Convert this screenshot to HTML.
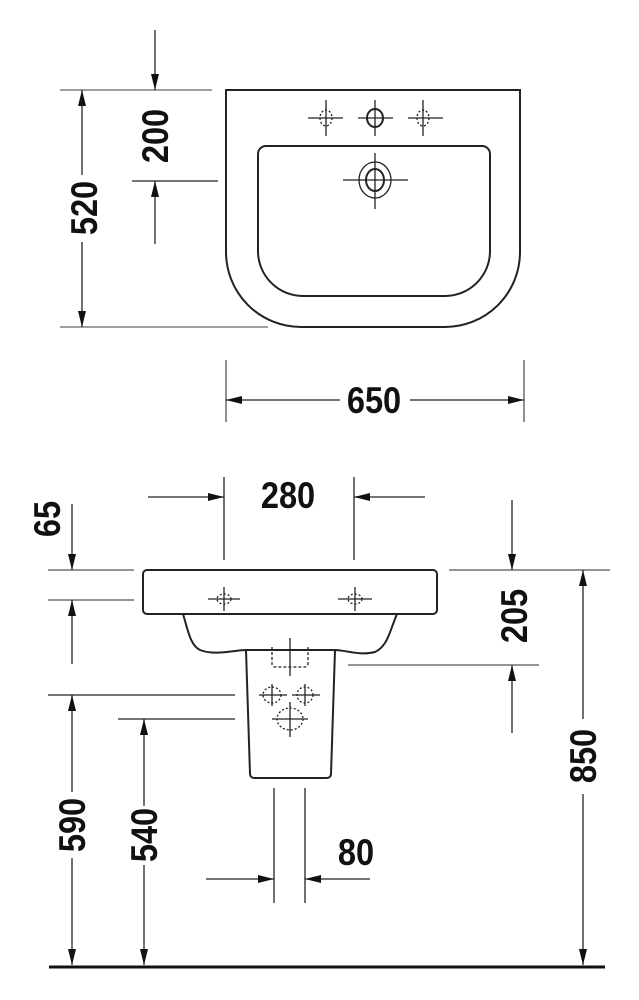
<!DOCTYPE html>
<html><head><style>html,body{margin:0;padding:0;background:#fff;overflow:hidden}svg{display:block}
text{font-family:"Liberation Sans",sans-serif;font-weight:bold;font-size:37px;fill:#111}</style></head>
<body>
<svg width="639" height="1000" viewBox="0 0 639 1000" xmlns="http://www.w3.org/2000/svg">
<defs>
<marker id="a" markerWidth="16" markerHeight="8" refX="16" refY="4" orient="auto" markerUnits="userSpaceOnUse">
<path d="M0,0 L16,4 L0,8 Z" fill="#111"/></marker>
</defs>
<g stroke="#222" stroke-width="1.3" fill="none">
<!-- top view -->
<path d="M226,90 H520 V252 A75,75 0 0 1 445,327 H301 A75,75 0 0 1 226,252 Z" stroke-width="2"/>
<path d="M266,146 H482 A8,8 0 0 1 490,154 V251 A45,45 0 0 1 445,296 H303 A45,45 0 0 1 258,251 V154 A8,8 0 0 1 266,146 Z" stroke-width="2"/>
<line x1="308" y1="118" x2="343" y2="118"/><line x1="326" y1="100" x2="326" y2="136"/>
<ellipse cx="326" cy="118" rx="6" ry="8" stroke-dasharray="2 2"/>
<line x1="358" y1="118" x2="393" y2="118"/><line x1="375" y1="100" x2="375" y2="136"/>
<ellipse cx="375" cy="118" rx="8" ry="9" stroke-width="2"/>
<line x1="408" y1="118" x2="443" y2="118"/><line x1="423" y1="100" x2="423" y2="136"/>
<ellipse cx="423" cy="118" rx="6" ry="8" stroke-dasharray="2 2"/>
<line x1="343" y1="180" x2="408" y2="180"/><line x1="375" y1="153" x2="375" y2="209"/>
<ellipse cx="375" cy="180" rx="16" ry="18"/><ellipse cx="375" cy="180" rx="9" ry="11" stroke-width="2"/>
<!-- 520 -->
<line x1="60" y1="90" x2="212" y2="90" stroke="#666"/>
<line x1="60" y1="327" x2="268" y2="327" stroke="#666"/>
<line x1="82" y1="175" x2="82" y2="90" marker-end="url(#a)"/>
<line x1="82" y1="242" x2="82" y2="327" marker-end="url(#a)"/>
<!-- 200 -->
<line x1="155" y1="30" x2="155" y2="90" marker-end="url(#a)"/>
<line x1="132" y1="181" x2="218" y2="181"/>
<line x1="155" y1="244" x2="155" y2="181" marker-end="url(#a)"/>
<!-- 650 -->
<line x1="226" y1="360" x2="226" y2="422" stroke="#555"/>
<line x1="524" y1="360" x2="524" y2="422" stroke="#555"/>
<line x1="340" y1="400" x2="226" y2="400" marker-end="url(#a)"/>
<line x1="410" y1="400" x2="524" y2="400" marker-end="url(#a)"/>

<!-- side view -->
<rect x="143" y="570" width="294" height="44" rx="4" stroke-width="2"/>
<path d="M183,614 C188,630 190,645 200,650 C215,656 235,650 246,650" stroke-width="2"/>
<path d="M397,614 C390,630 388,646 375,652 C360,656 345,650 335,650" stroke-width="2"/>
<path d="M246,650 L250,774 A4,4 0 0 0 254,778 L327,778 A4,4 0 0 0 331,774 L335,650 Z" stroke-width="2"/>
<path d="M272,647 V664 A3,3 0 0 0 275,667 H305 A3,3 0 0 0 308,664 V647" stroke-dasharray="3 2"/>
<line x1="290" y1="638" x2="290" y2="676"/>
<line x1="208" y1="599" x2="240" y2="599"/><line x1="224" y1="587" x2="224" y2="611"/>
<ellipse cx="224" cy="599" rx="7" ry="5" stroke-dasharray="2 2"/>
<line x1="338" y1="599" x2="372" y2="599"/><line x1="355" y1="587" x2="355" y2="611"/>
<ellipse cx="355" cy="599" rx="7" ry="5" stroke-dasharray="2 2"/>
<line x1="259" y1="695" x2="287" y2="695"/><line x1="272" y1="684" x2="272" y2="706"/>
<ellipse cx="272" cy="695" rx="9" ry="8" stroke-dasharray="2 2"/>
<line x1="292" y1="695" x2="320" y2="695"/><line x1="305" y1="684" x2="305" y2="706"/>
<ellipse cx="305" cy="695" rx="8" ry="8" stroke-dasharray="2 2"/>
<line x1="272" y1="719" x2="308" y2="719"/><line x1="290" y1="702" x2="290" y2="737"/>
<ellipse cx="290" cy="719" rx="13" ry="11" stroke-dasharray="2 2"/>
<!-- 280 -->
<line x1="224" y1="477" x2="224" y2="560"/>
<line x1="354" y1="477" x2="354" y2="560"/>
<line x1="148" y1="497" x2="224" y2="497" marker-end="url(#a)"/>
<line x1="425" y1="497" x2="354" y2="497" marker-end="url(#a)"/>
<!-- 65 -->
<line x1="72" y1="504" x2="72" y2="570" marker-end="url(#a)"/>
<line x1="48" y1="570" x2="134" y2="570" stroke="#555"/>
<line x1="48" y1="600" x2="134" y2="600" stroke="#555"/>
<line x1="72" y1="664" x2="72" y2="600" marker-end="url(#a)"/>
<!-- 205 -->
<line x1="449" y1="570" x2="610" y2="570" stroke="#555"/>
<line x1="348" y1="665" x2="539" y2="665" stroke="#555"/>
<line x1="512" y1="500" x2="512" y2="570" marker-end="url(#a)"/>
<line x1="512" y1="733" x2="512" y2="665" marker-end="url(#a)"/>
<!-- 850 -->
<line x1="583" y1="719" x2="583" y2="570" marker-end="url(#a)"/>
<line x1="583" y1="794" x2="583" y2="965" marker-end="url(#a)"/>
<!-- 590 / 540 -->
<line x1="48" y1="695" x2="235" y2="695"/>
<line x1="118" y1="719" x2="235" y2="719"/>
<line x1="72" y1="792" x2="72" y2="695" marker-end="url(#a)"/>
<line x1="72" y1="858" x2="72" y2="965" marker-end="url(#a)"/>
<line x1="144" y1="806" x2="144" y2="719" marker-end="url(#a)"/>
<line x1="144" y1="865" x2="144" y2="965" marker-end="url(#a)"/>
<!-- 80 -->
<line x1="274" y1="788" x2="274" y2="903"/>
<line x1="305" y1="788" x2="305" y2="903"/>
<line x1="206" y1="879" x2="274" y2="879" marker-end="url(#a)"/>
<line x1="370" y1="879" x2="305" y2="879" marker-end="url(#a)"/>
</g>
<line x1="49" y1="967" x2="605" y2="967" stroke="#111" stroke-width="3"/>
<g text-anchor="middle">
<text transform="translate(374,413) scale(0.88,1)">650</text>
<text transform="translate(97,208) rotate(-90) scale(0.88,1)">520</text>
<text transform="translate(168,136) rotate(-90) scale(0.88,1)">200</text>
<text transform="translate(288,508) scale(0.88,1)">280</text>
<text transform="translate(60,519) rotate(-90) scale(0.88,1)">65</text>
<text transform="translate(527,616) rotate(-90) scale(0.88,1)">205</text>
<text transform="translate(596,756) rotate(-90) scale(0.88,1)">850</text>
<text transform="translate(85,825) rotate(-90) scale(0.88,1)">590</text>
<text transform="translate(157,835) rotate(-90) scale(0.88,1)">540</text>
<text transform="translate(356,865) scale(0.88,1)">80</text>
</g>
</svg>
</body></html>
